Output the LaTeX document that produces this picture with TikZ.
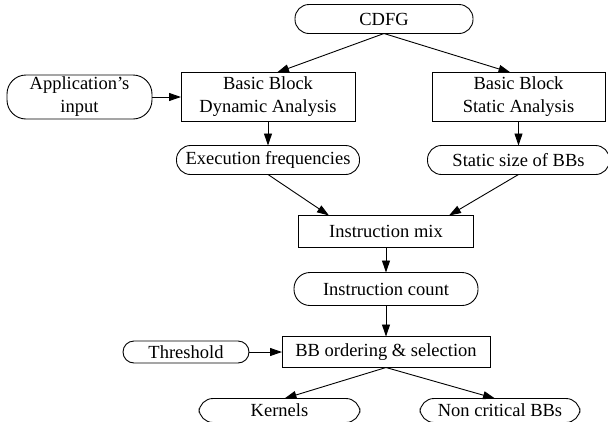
\documentclass[tikz,border=0pt]{standalone}
\usepackage{fontspec}
\setmainfont{Liberation Serif}
\usetikzlibrary{arrows.meta,positioning}

\begin{document}
\begin{tikzpicture}[x=1pt,y=1pt,>={Triangle[length=12pt,width=8pt]},
  line width=0.9pt,node font=\fontsize{18.5}{23}\selectfont,
  data/.style={draw,rounded corners=14pt,minimum height=29pt,inner sep=0pt,outer sep=0pt,align=center},
  proc/.style={draw,minimum height=32pt,inner sep=0pt,outer sep=0pt,align=center}]
  \useasboundingbox (0,0) rectangle (608,-421);
  \clip (0,0) rectangle (608,-421);

  \node[data,minimum width=178pt] (cdfg) at (384,-19) {CDFG};
  \node[proc,minimum width=174pt,minimum height=49pt] (dyn) [below=39pt of cdfg,xshift=-116pt] {Basic Block\\Dynamic Analysis};
  \node[proc,minimum width=173pt,minimum height=49pt] (stat) [right=77pt of dyn] {Basic Block\\Static Analysis};
  \node[data,minimum width=145pt,minimum height=44pt,rounded corners=19pt] (app) [left=29pt of dyn] {Application's\\input};
  \node[data,minimum width=183pt] (freq) [below=24pt of dyn] {Execution frequencies};
  \node[data,minimum width=182pt] (size) [below=24pt of stat] {Static size of BBs};
  \node[proc,minimum width=175pt] (mix) [below=41pt of freq,xshift=118pt] {Instruction mix};
  \node[data,minimum width=184pt,minimum height=33pt,rounded corners=16pt] (count) [below=25pt of mix] {Instruction count};
  \node[proc,minimum width=208pt,minimum height=31pt] (order) [below=31pt of count] {BB ordering \& selection};
  \node[data,minimum width=126pt,minimum height=22pt,rounded corners=11pt] (thr) [left=33pt of order] {Threshold};
  \node[data,minimum width=161pt,minimum height=24pt] (kern) [below=31pt of order,xshift=-106.5pt] {Kernels};
  \node[data,minimum width=160pt,minimum height=24pt] (noncrit) [right=60pt of kern] {Non critical BBs};

  \draw[->] (cdfg.south) -- ([xshift=9pt]dyn.north);
  \draw[->] (cdfg.south) -- ([xshift=-8pt]stat.north);
  \draw[->] (app) -- (dyn);
  \draw[->] (dyn) -- (freq);
  \draw[->] (stat) -- (size);
  \draw[->] (freq.south) -- ([xshift=-57pt]mix.north);
  \draw[->] (size.south) -- ([xshift=63pt]mix.north);
  \draw[->] (mix) -- (count);
  \draw[->] (count) -- (order);
  \draw[->] (thr) -- (order);
  \draw[->] (order.south) -- ([xshift=5pt]kern.north);
  \draw[->] (order.south) -- ([xshift=-5pt]noncrit.north);
\end{tikzpicture}
\end{document}
